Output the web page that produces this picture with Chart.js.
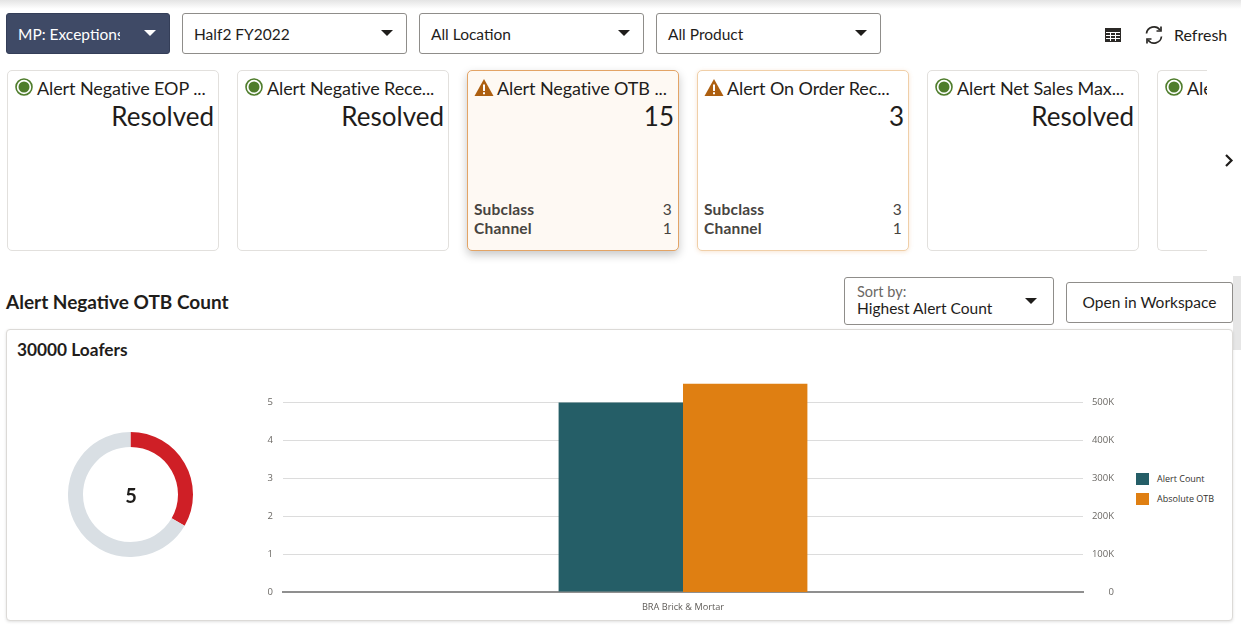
<!DOCTYPE html>
<html>
<head>
<meta charset="utf-8">
<title>Alert Negative OTB Count</title>
<script src="https://cdn.jsdelivr.net/npm/chart.js@4"></script>
<style>
  html, body { margin: 0; padding: 0; background: #fff; overflow: hidden; }
  body { width: 1241px; height: 628px; position: relative; font-family: Lato, "Noto Sans", sans-serif; color: #1f1d1b; }
  .abs { position: absolute; white-space: nowrap; }
  .topshade { position: absolute; left: 0; top: 0; width: 1241px; height: 9px; background: linear-gradient(#e4e4e4, #fff); }
  .select { position: absolute; top: 13px; height: 39px; border: 1px solid #8f8d8a; border-radius: 3px; background: #fff; font-size: 15.5px; line-height: 41px; padding-left: 11px; box-sizing: content-box; }
  .select.dark { background: #3f4a66; border-color: #343e58; color: #fff; }
  .caret { position: absolute; width: 0; height: 0; border-left: 6px solid transparent; border-right: 6px solid transparent; border-top: 6px solid #1f1d1b; }
  .card { position: absolute; top: 70px; height: 179px; width: 210px; border: 1px solid #e2e0dd; border-radius: 5px; background: #fff; }
  .card.warn { border-color: #f0cfa8; box-shadow: 0 1px 4px rgba(225,150,80,.25); }
  .card.active { border-color: #e3a466; background: #fef9f3; box-shadow: 0 4px 10px rgba(0,0,0,.22); }
  .card.clip { width: 49px; border-right: 0; border-radius: 5px 0 0 5px; overflow: hidden; }
  .card .name { position: absolute; left: 29px; top: 5px; font-size: 18px; line-height: 24px; white-space: nowrap; letter-spacing: -.1px; }
  .card .value { position: absolute; right: 4px; top: 29px; font-size: 26px; line-height: 33px; }
  .card .icon { position: absolute; left: 7px; top: 7px; }
  .card .row { position: absolute; left: 6px; right: 6px; font-size: 15.5px; line-height: 19px; font-weight: 700; color: #47443f; letter-spacing: .2px; }
  .card .row span { position: absolute; right: 0; font-weight: 400; }
  .panel { position: absolute; left: 6px; top: 329px; width: 1225px; height: 290px; border: 1px solid #dcdad7; border-radius: 4px; box-shadow: 0 1px 3px rgba(0,0,0,.12); background: #fff; }
  #donutBox { position: absolute; left: 68px; top: 432px; width: 125px; height: 125px; }
  #barBox { position: absolute; left: 240px; top: 364px; width: 874px; height: 251px; }
  .legendRow { position: absolute; left: 1136px; font-family: "Open Sans", sans-serif; font-size: 9px; line-height: 12px; color: #33312e; white-space: nowrap; padding-left: 21px; }
  .legendRow i { position: absolute; left: 0; top: 0; width: 13px; height: 12px; }
</style>
</head>
<body>
<div class="topshade"></div>

<div class="select dark" style="left:6px;width:151px;"><span style="display:inline-block;width:102px;overflow:hidden;vertical-align:top;white-space:nowrap;">MP: Exceptions</span></div>
<div class="caret" style="left:144px;top:30px;border-top-color:#fff;"></div>
<div class="select" style="left:182px;width:212px;">Half2 FY2022</div>
<div class="caret" style="left:381px;top:30px;"></div>
<div class="select" style="left:419px;width:212px;">All Location</div>
<div class="caret" style="left:618px;top:30px;"></div>
<div class="select" style="left:656px;width:212px;">All Product</div>
<div class="caret" style="left:855px;top:30px;"></div>

<svg class="abs" style="left:1104px;top:27px;" width="18" height="16" viewBox="0 0 18 16"><path fill="#2b2926" d="M1 1h16v14H1z"/><path stroke="#fff" stroke-width="1" d="M2 5.5h14M2 8.5h14M2 11.5h14M6.5 5v9M11.5 5v9"/></svg>
<svg class="abs" style="left:1144px;top:25px;" width="20" height="20" viewBox="0 0 20 20" fill="none" stroke="#2b2926" stroke-width="1.7"><path d="M2.5 8.5A7.5 7.5 0 0 1 16 5"/><path d="M17 1.5V6h-4.5"/><path d="M17.5 11.5A7.5 7.5 0 0 1 4 15"/><path d="M3 18.5V14h4.5"/></svg>
<div class="abs" style="left:1174px;top:25px;font-size:16px;line-height:20px;">Refresh</div>

<div id="cards"></div>
<svg class="abs" style="left:1224px;top:153px;" width="10" height="15" viewBox="0 0 10 15" fill="none" stroke="#1f1d1b" stroke-width="2.2"><path d="M2 2l5.5 5.5L2 13"/></svg>

<div class="abs" style="left:6px;top:290px;font-size:19px;line-height:23px;font-weight:700;">Alert Negative OTB Count</div>
<div class="abs" style="left:844px;top:277px;width:208px;height:46px;border:1px solid #8f8d8a;border-radius:3px;"></div>
<div class="abs" style="left:857px;top:284px;font-size:14.5px;line-height:16px;color:#6b6864;">Sort by:</div>
<div class="abs" style="left:857px;top:299px;font-size:15.5px;line-height:18px;">Highest Alert Count</div>
<div class="caret" style="left:1025px;top:298px;"></div>
<div class="abs" style="left:1066px;top:282px;width:165px;height:39px;border:1px solid #8f8d8a;border-radius:3px;text-align:center;font-size:15.5px;line-height:39px;">Open in Workspace</div>
<div class="abs" style="left:1233px;top:276px;width:8px;height:74px;background:#e6e6e6;"></div>

<div class="panel"></div>
<div class="abs" style="left:17px;top:340px;font-size:17.3px;line-height:20px;font-weight:700;">30000 Loafers</div>

<div id="donutBox"><canvas id="donutChart"></canvas></div>
<div class="abs" style="left:111px;top:482px;width:40px;text-align:center;font-size:20px;line-height:26px;font-weight:700;">5</div>
<div id="barBox"><canvas id="barChart"></canvas></div>
<div id="barLegend"></div>

<script>
const categories = ["BRA Brick & Mortar"];
const alertCount = [5];
const absoluteOtb = [549000];
const donutValues = [5, 10];
const countTicks = [0, 1, 2, 3, 4, 5];
const otbTicks = [0, 100000, 200000, 300000, 400000, 500000];
const seriesNames = ["Alert Count", "Absolute OTB"];
const seriesColors = ["#255e67", "#df7f12"];

const cardNames = ["Alert Negative EOP ...", "Alert Negative Rece...", "Alert Negative OTB ...", "Alert On Order Rec...", "Alert Net Sales Max...", "Ale"];
const cardValues = ["Resolved", "Resolved", "15", "3", "Resolved", ""];
const cardSubclass = [null, null, 3, 3, null, null];
const cardChannel = [null, null, 1, 1, null, null];
const cardLeft = [7, 237, 467, 697, 927, 1157];

const okIcon = '<svg class="icon" width="19" height="19" viewBox="0 0 19 19"><circle cx="9" cy="9" r="8" fill="#fff" stroke="#4f7d2c" stroke-width="1.6"/><circle cx="9" cy="9" r="5.5" fill="#4f7d2c"/></svg>';
const warnIcon = '<svg class="icon" style="left:6px;" width="20" height="19" viewBox="0 0 20 19"><path d="M10 1l9.5 17H.5z" fill="#ad5f10"/><path d="M9 6.5h2V13H9zM9 14.2h2v2H9z" fill="#fff"/></svg>';

function renderCards() {
    const container = document.getElementById("cards");
    cardNames.forEach((name, i) => {
        const isWarn = cardSubclass[i] !== null;
        let cls = "card";
        if (isWarn) cls += " warn";
        if (i === 2) cls += " active";
        if (i === 5) cls += " clip";
        let html = `<div class="${cls}" style="left:${cardLeft[i]}px;">`;
        html += isWarn ? warnIcon : okIcon;
        html += `<div class="name">${name}</div><div class="value">${cardValues[i]}</div>`;
        if (isWarn) {
            html += `<div class="row" style="top:129px;">Subclass<span>${cardSubclass[i]}</span></div>`;
            html += `<div class="row" style="top:148px;">Channel<span>${cardChannel[i]}</span></div>`;
        }
        container.innerHTML += html + "</div>";
    });
}

function renderLegend() {
    const container = document.getElementById("barLegend");
    seriesNames.forEach((name, i) => {
        container.innerHTML += `<div class="legendRow" style="top:${473 + i * 20}px;"><i style="background:${seriesColors[i]};"></i>${name}</div>`;
    });
}

function renderDonut() {
    new Chart(document.getElementById("donutChart"), {
        type: "doughnut",
        data: {
            datasets: [{
                data: donutValues,
                backgroundColor: ["#cf1f26", "#d9dfe4"],
                borderWidth: 0
            }]
        },
        options: {
            responsive: true, maintainAspectRatio: false, animation: false,
            cutout: "76%",
            plugins: { legend: { display: false }, tooltip: { enabled: false } }
        }
    });
}

function onlyListed(list) {
    return axis => { axis.ticks = list.map(v => ({ value: v })); };
}

function renderBars() {
    new Chart(document.getElementById("barChart"), {
        type: "bar",
        data: {
            labels: categories,
            datasets: [
                { label: seriesNames[0], data: alertCount, backgroundColor: seriesColors[0], yAxisID: "y" },
                { label: seriesNames[1], data: absoluteOtb, backgroundColor: seriesColors[1], yAxisID: "y1" }
            ]
        },
        options: {
            responsive: true, maintainAspectRatio: false, animation: false,
            categoryPercentage: 0.311,
            barPercentage: 1,
            layout: { padding: 0 },
            plugins: {
                tooltip: { enabled: false },
                legend: { display: false }
            },
            scales: {
                x: {
                    grid: { display: false },
                    border: { color: "#8f8f8f", width: 2 },
                    ticks: { color: "#5f5c58", font: { family: "Open Sans", size: 9.2 }, padding: 2 }
                },
                y: {
                    position: "left", min: 0, max: 5.6,
                    afterBuildTicks: onlyListed(countTicks),
                    afterFit: axis => { axis.width = 43; },
                    grid: { color: "#dcdcdc", drawTicks: false },
                    border: { display: false },
                    ticks: { color: "#6b6864", font: { family: "Open Sans", size: 9.5 }, padding: 10 }
                },
                y1: {
                    position: "right", min: 0, max: 560000,
                    afterBuildTicks: onlyListed(otbTicks),
                    afterFit: axis => { axis.width = 31; },
                    grid: { display: false, drawTicks: false },
                    border: { display: false },
                    ticks: {
                        color: "#6b6864", font: { family: "Open Sans", size: 9.5 }, padding: 0, crossAlign: "far",
                        callback: v => v === 0 ? "0" : (v / 1000) + "K"
                    }
                }
            }
        }
    });
}

renderCards();
renderLegend();
renderDonut();
renderBars();
</script>
</body>
</html>
